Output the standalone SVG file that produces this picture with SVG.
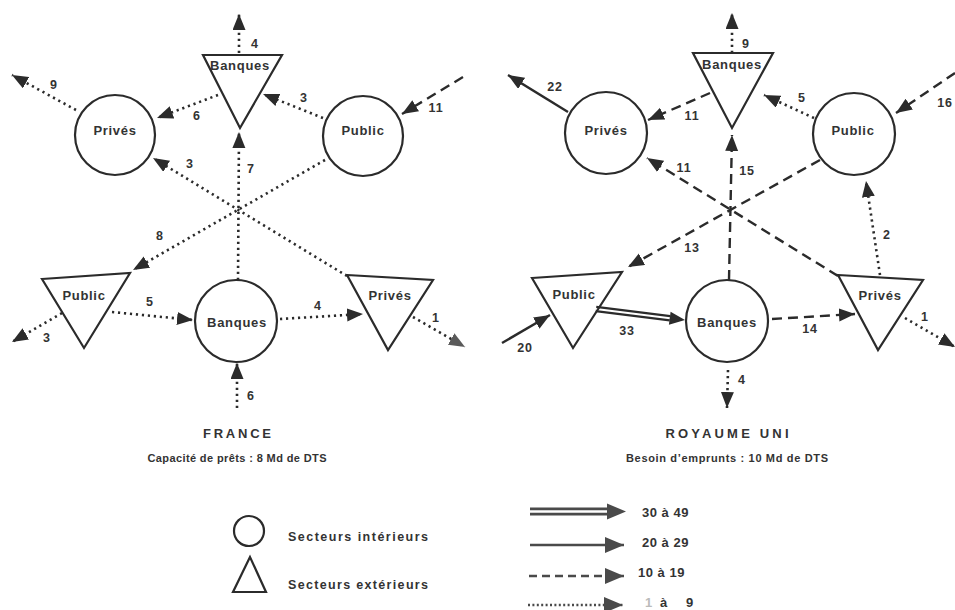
<svg xmlns="http://www.w3.org/2000/svg" width="955" height="610" viewBox="0 0 955 610">
  <defs>
    <marker id="ah" markerUnits="userSpaceOnUse" markerWidth="17" markerHeight="14" refX="16" refY="6.5" orient="auto">
      <path d="M0,0 L16,6.5 L0,13 z" fill="#2b2b2b"/>
    </marker>
    <marker id="ahGray" markerUnits="userSpaceOnUse" markerWidth="17" markerHeight="14" refX="16" refY="6.5" orient="auto">
      <path d="M0,0 L16,6.5 L0,13 z" fill="#5a5a5a"/>
    </marker>
    <marker id="ahLeg" markerUnits="userSpaceOnUse" markerWidth="20" markerHeight="17" refX="19" refY="8" orient="auto">
      <path d="M0,0 L19,8 L0,16 z" fill="#4a4a4a"/>
    </marker>
  </defs>
  <style>
    .node { fill: none; stroke: #2b2b2b; stroke-width: 2.2; }
    .nlabel { font-family: "Liberation Sans", Arial, sans-serif; font-weight: bold; font-size: 13px; fill: #333; text-anchor: middle; letter-spacing: 0.7px; }
    .num { font-family: "Liberation Sans", Arial, sans-serif; font-weight: bold; font-size: 12.5px; fill: #333; text-anchor: middle; letter-spacing: 0.8px; }
    .title { font-family: "Liberation Sans", Arial, sans-serif; font-weight: bold; font-size: 13px; fill: #333; text-anchor: middle; }
    .sub { font-family: "Liberation Sans", Arial, sans-serif; font-weight: bold; font-size: 11px; fill: #333; text-anchor: middle; }
    .leg { font-family: "Liberation Sans", Arial, sans-serif; font-weight: bold; font-size: 12.5px; fill: #333; }
    .rng { font-family: "Liberation Sans", Arial, sans-serif; font-weight: bold; font-size: 13px; fill: #333; letter-spacing: 0.5px; }
    .dot { fill: none; stroke: #2b2b2b; stroke-width: 2.6; stroke-dasharray: 2.2 3.8; marker-end: url(#ah); }
    .dash { fill: none; stroke: #2b2b2b; stroke-width: 2.4; stroke-dasharray: 10 6; marker-end: url(#ah); }
    .solid { fill: none; stroke: #2b2b2b; stroke-width: 2.4; marker-end: url(#ah); }
  </style>
  <rect width="955" height="610" fill="#fff"/>

  <!-- ===== FRANCE ===== -->
  <g id="connectors-france">
    <path class="dot" d="M239,53 L239,14"/>
    <path class="dot" d="M76,110 L12,75"/>
    <path class="dot" d="M218,95 L157,118"/>
    <path class="dot" d="M323,118 L263,94"/>
    <path class="dash" d="M463,77 L402,114"/>
    <path class="dot" d="M238,280 L239,132"/>
    <path class="dot" d="M347,276 L153,158"/>
    <path class="dot" d="M325,160 L133,270"/>
    <path class="dot" d="M112,312 L193,320"/>
    <path class="dot" d="M280,319 L363,314"/>
    <path class="dot" d="M413,317 L465,347" style="marker-end:url(#ahGray)"/>
    <path class="dot" d="M62,313 L12,342"/>
    <path class="dot" d="M237,408 L237,363"/>
  </g>
  <g id="labels-france">
    <text class="num" x="255" y="48">4</text>
    <text class="num" x="54" y="89">9</text>
    <text class="num" x="197" y="120">6</text>
    <text class="num" x="304" y="102">3</text>
    <text class="num" x="436" y="112">11</text>
    <text class="num" x="251" y="173">7</text>
    <text class="num" x="190" y="168">3</text>
    <text class="num" x="160" y="240">8</text>
    <text class="num" x="150" y="306">5</text>
    <text class="num" x="318" y="310">4</text>
    <text class="num" x="436" y="322">1</text>
    <text class="num" x="47" y="342">3</text>
    <text class="num" x="251" y="400">6</text>
  </g>
  <g id="fr-banques-ext">
    <polygon class="node" points="203,55 282,55 240,128"/>
    <text class="nlabel" x="240" y="70">Banques</text>
  </g>
  <g id="fr-prives-int">
    <circle class="node" cx="115" cy="135" r="40"/>
    <text class="nlabel" x="115" y="135">Privés</text>
  </g>
  <g id="fr-public-int">
    <circle class="node" cx="363" cy="136" r="40"/>
    <text class="nlabel" x="363" y="135">Public</text>
  </g>
  <g id="fr-public-ext">
    <polygon class="node" points="42,279 130,273 84,348"/>
    <text class="nlabel" x="84" y="300">Public</text>
  </g>
  <g id="fr-banques-int">
    <circle class="node" cx="236" cy="321" r="41"/>
    <text class="nlabel" x="237" y="327">Banques</text>
  </g>
  <g id="fr-prives-ext">
    <polygon class="node" points="347,275 433,280 388,350"/>
    <text class="nlabel" x="390" y="300">Privés</text>
  </g>
  <text class="title" x="237" y="438" textLength="68" lengthAdjust="spacing">FRANCE</text>
  <text class="sub" x="237" y="462" textLength="179" lengthAdjust="spacing">Capacité de prêts : 8 Md de DTS</text>

  <!-- ===== ROYAUME UNI ===== -->
  <g id="connectors-uk">
    <path class="dot" d="M732,53 L732,13"/>
    <path class="solid" d="M568,112 L508,75"/>
    <path class="dash" d="M710,93 L648,120"/>
    <path class="dot" d="M814,118 L764,95"/>
    <path class="dash" d="M955,73 L896,113"/>
    <path class="dash" d="M729,280 L732,135"/>
    <path class="dash" d="M838,276 L647,158"/>
    <path class="dash" d="M820,160 L628,267"/>
    <!-- double line (30 to 49): dark band with a white core, then the head -->
    <path d="M596,309 L670,318.2" fill="none" stroke="#2b2b2b" stroke-width="6.5"/>
    <path d="M596,309 L670,318.2" fill="none" stroke="#fff" stroke-width="2"/>
    <polygon points="685,320 668.9,324.7 670.6,311.8" fill="#2b2b2b"/>
    <path class="solid" d="M502,343 L550,315"/>
    <path class="dash" d="M772,319 L855,314"/>
    <path class="dot" d="M905,318 L955,347"/>
    <path class="dot" d="M728,370 L727,408"/>
    <path class="dot" d="M880,275 L866,181"/>
  </g>
  <g id="labels-uk">
    <text class="num" x="746" y="48">9</text>
    <text class="num" x="555" y="91">22</text>
    <text class="num" x="692" y="120">11</text>
    <text class="num" x="802" y="102">5</text>
    <text class="num" x="945" y="107">16</text>
    <text class="num" x="747" y="175">15</text>
    <text class="num" x="684" y="172">11</text>
    <text class="num" x="692" y="252">13</text>
    <text class="num" x="887" y="239">2</text>
    <text class="num" x="627" y="335">33</text>
    <text class="num" x="525" y="352">20</text>
    <text class="num" x="810" y="333">14</text>
    <text class="num" x="925" y="321">1</text>
    <text class="num" x="742" y="384">4</text>
  </g>
  <g id="uk-banques-ext">
    <polygon class="node" points="693,53 773,53 732,128"/>
    <text class="nlabel" x="732" y="69">Banques</text>
  </g>
  <g id="uk-prives-int">
    <circle class="node" cx="606" cy="133" r="41"/>
    <text class="nlabel" x="606" y="135">Privés</text>
  </g>
  <g id="uk-public-int">
    <circle class="node" cx="854" cy="134" r="41"/>
    <text class="nlabel" x="853" y="135">Public</text>
  </g>
  <g id="uk-public-ext">
    <polygon class="node" points="532,278 622,272 573,348"/>
    <text class="nlabel" x="574" y="299">Public</text>
  </g>
  <g id="uk-banques-int">
    <circle class="node" cx="727" cy="321" r="41"/>
    <text class="nlabel" x="727" y="327">Banques</text>
  </g>
  <g id="uk-prives-ext">
    <polygon class="node" points="838,275 923,280 878,350"/>
    <text class="nlabel" x="880" y="300">Privés</text>
  </g>
  <text class="title" x="727" y="438" textLength="123" lengthAdjust="spacing">ROYAUME UNI</text>
  <text class="sub" x="727" y="462" textLength="202" lengthAdjust="spacing">Besoin d’emprunts : 10 Md de DTS</text>

  <!-- ===== Legend ===== -->
  <g id="legend-shapes">
    <circle class="node" cx="249" cy="531" r="15"/>
    <text class="leg" x="288" y="541" textLength="140" lengthAdjust="spacing">Secteurs intérieurs</text>
    <polygon class="node" points="250,557 233,592 266,592"/>
    <text class="leg" x="288" y="589" textLength="140" lengthAdjust="spacing">Secteurs extérieurs</text>
  </g>
  <g id="legend-lines">
    <path d="M530,511.5 L608,511.5" fill="none" stroke="#4a4a4a" stroke-width="8"/>
    <path d="M530,511.5 L608,511.5" fill="none" stroke="#fff" stroke-width="2.5"/>
    <polygon points="626,511.5 607,503.5 607,519.5" fill="#4a4a4a"/>
    <path d="M530,545 L624,545" fill="none" stroke="#4a4a4a" stroke-width="2.6" marker-end="url(#ahLeg)"/>
    <path d="M529,576 L624,576" fill="none" stroke="#4a4a4a" stroke-width="2.6" stroke-dasharray="8 5" marker-end="url(#ahLeg)"/>
    <path d="M528,605 L623,605" fill="none" stroke="#4a4a4a" stroke-width="2.6" stroke-dasharray="2 2.4" marker-end="url(#ahLeg)"/>
    <text class="rng" x="642" y="517">30 à 49</text>
    <text class="rng" x="642" y="547">20 à 29</text>
    <text class="rng" x="638" y="577">10 à 19</text>
    <text class="rng" y="607"><tspan x="645" fill="#bbb">1</tspan><tspan x="660">à</tspan><tspan x="686">9</tspan></text>
  </g>
</svg>
